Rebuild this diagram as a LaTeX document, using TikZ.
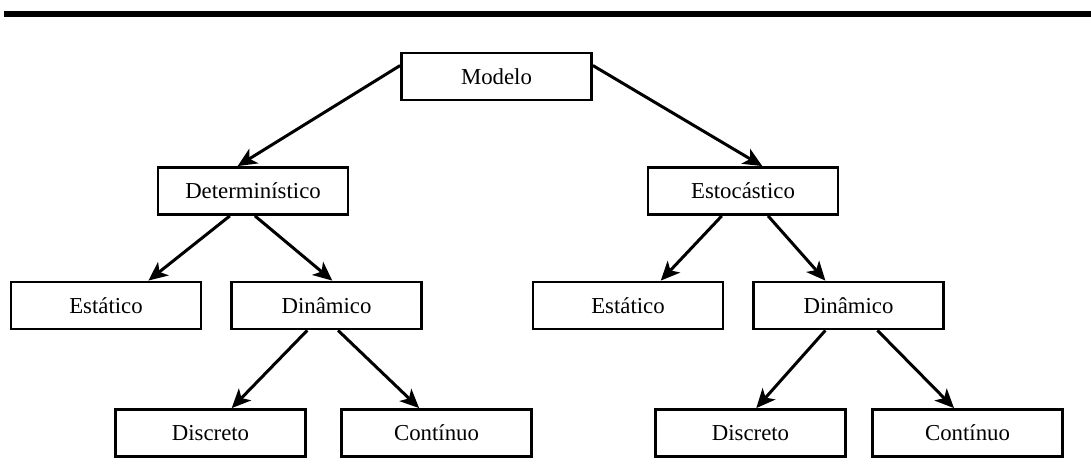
\documentclass[tikz,border=0pt]{standalone}
\usepackage{fontspec}
\setmainfont{Liberation Serif}
\usetikzlibrary{arrows.meta,calc}

\begin{document}
\begin{tikzpicture}[x=0.5pt,y=-0.5pt,
  box/.style={draw,line width=1.4pt,minimum width=95pt,minimum height=23.5pt,
              inner sep=0pt,font=\fontsize{11.4}{13}\selectfont},
  link/.style={line width=1.5pt,-{Stealth[length=9.5pt,width=8.5pt,inset=2.5pt]}}]
  \useasboundingbox (0,0) rectangle (1091,464);

  % heavy rule across the top
  \fill (4,11) rectangle (1091,16.7);

  % tree of model classes
  \node[box] (m)   at (496.5,76.5) {Modelo};
  \node[box] (det) at (253,191)    {Determinístico};
  \node[box] (sto) at (743,191)    {Estocástico};
  \node[box] (e1)  at (106,305.5)  {Estático};
  \node[box] (d1)  at (326.5,305.5){Dinâmico};
  \node[box] (e2)  at (628,305.5)  {Estático};
  \node[box] (d2)  at (848.5,305.5){Dinâmico};
  \node[box] (c1)  at (210.5,433)  {Discreto};
  \node[box] (n1)  at (436.5,433)  {Contínuo};
  \node[box] (c2)  at (750.5,433)  {Discreto};
  \node[box] (n2)  at (967.5,433)  {Contínuo};

  % connectors
  \draw[link] ($(m.north west)!0.28!(m.south west)$) -- ($(det.north west)!0.42!(det.north east)$);
  \draw[link] ($(m.north east)!0.28!(m.south east)$) -- ($(sto.north west)!0.60!(sto.north east)$);

  \draw[link] ($(det.south west)!0.38!(det.south east)$) -- ($(e1.north west)!0.72!(e1.north east)$);
  \draw[link] ($(det.south west)!0.51!(det.south east)$) -- ($(d1.north west)!0.53!(d1.north east)$);

  \draw[link] ($(sto.south west)!0.39!(sto.south east)$) -- ($(e2.north west)!0.67!(e2.north east)$);
  \draw[link] ($(sto.south west)!0.63!(sto.south east)$) -- ($(d2.north west)!0.38!(d2.north east)$);

  \draw[link] ($(d1.south west)!0.40!(d1.south east)$) -- ($(c1.north west)!0.61!(c1.north east)$);
  \draw[link] ($(d1.south west)!0.56!(d1.south east)$) -- ($(n1.north west)!0.41!(n1.north east)$);

  \draw[link] ($(d2.south west)!0.38!(d2.south east)$) -- ($(c2.north west)!0.53!(c2.north east)$);
  \draw[link] ($(d2.south west)!0.65!(d2.south east)$) -- ($(n2.north west)!0.43!(n2.north east)$);
\end{tikzpicture}
\end{document}
